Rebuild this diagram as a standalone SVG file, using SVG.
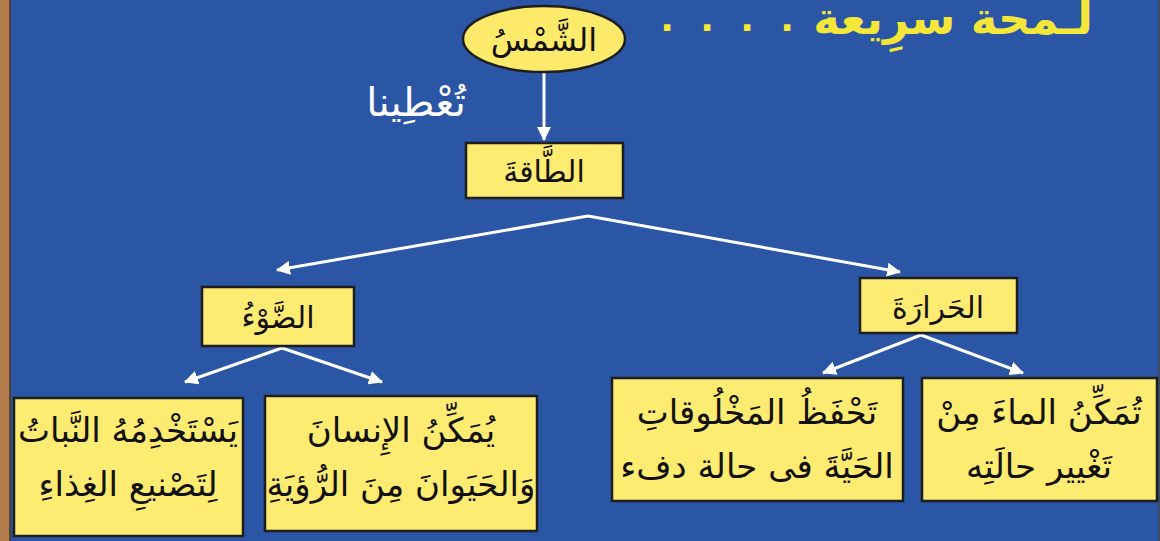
<svg xmlns="http://www.w3.org/2000/svg" width="1160" height="541" viewBox="0 0 1160 541">
<defs>
<style>
.box{fill:#fdeb72;stroke:#1e1e1e;stroke-width:2.5}
.t{font-family:"DejaVu Sans",sans-serif;fill:#111;text-anchor:middle;direction:rtl}
.c{stroke:#fff;stroke-width:3;fill:none}
</style>
<marker id="ah" viewBox="0 0 14 14" refX="13" refY="7" markerWidth="14" markerHeight="14" markerUnits="userSpaceOnUse" orient="auto">
<path d="M0,0 L14,7 L0,14 Z" fill="#fff"/>
</marker>
</defs>
<rect x="0" y="0" width="1160" height="541" fill="#2a56a5"/>
<rect x="0" y="0" width="10" height="541" fill="#b27b4a"/>
<line x1="10" y1="0" x2="10" y2="541" stroke="#4a3320" stroke-width="1.5"/>
<line x1="1159" y1="0" x2="1159" y2="541" stroke="#3d4a66" stroke-width="2"/>
<g id="title">
<text x="1093" y="34" font-family="DejaVu Sans,sans-serif" font-size="45" font-weight="bold" fill="#f5e63a" text-anchor="start" direction="rtl">لـمحة سرِيعة</text>
<text x="667 707 747 787" y="31" font-family="DejaVu Sans,sans-serif" font-size="36" font-weight="bold" fill="#f5e63a" text-anchor="middle">....</text>
</g>
<g id="connectors">
<line class="c" x1="544" y1="72" x2="544" y2="140" marker-end="url(#ah)"/>
<line class="c" x1="588" y1="216" x2="277" y2="270" marker-end="url(#ah)"/>
<line class="c" x1="588" y1="216" x2="900" y2="272" marker-end="url(#ah)"/>
<line class="c" x1="282" y1="348" x2="185" y2="382" marker-end="url(#ah)"/>
<line class="c" x1="282" y1="348" x2="382" y2="382" marker-end="url(#ah)"/>
<line class="c" x1="921" y1="335" x2="823" y2="373" marker-end="url(#ah)"/>
<line class="c" x1="921" y1="335" x2="1023" y2="373" marker-end="url(#ah)"/>
<text x="416" y="116" font-family="DejaVu Sans,sans-serif" font-size="40" fill="#fff" text-anchor="middle" direction="rtl">تُعْطِينا</text>
</g>
<g id="sun">
<ellipse cx="544" cy="39" rx="81" ry="33" fill="#fdea6a" stroke="#1e1e1e" stroke-width="2.5"/>
<text class="t" x="544" y="51" font-size="32">الشَّمْسُ</text>
</g>
<g id="energy">
<rect class="box" x="466" y="143" width="157" height="55"/>
<text class="t" x="544" y="182" font-size="30">الطَّاقةَ</text>
</g>
<g id="light">
<rect class="box" x="202" y="287" width="152" height="59"/>
<text class="t" x="278" y="328" font-size="30">الضَّوْءُ</text>
</g>
<g id="heat">
<rect class="box" x="860" y="278" width="157" height="55"/>
<text class="t" x="938" y="318" font-size="30">الحَرارَةَ</text>
</g>
<g id="plants">
<rect class="box" x="14" y="398" width="229" height="138"/>
<text class="t" x="128" y="442" font-size="34">يَسْتَخْدِمُهُ النَّباتُ</text>
<text class="t" x="128" y="496" font-size="34">لِتَصْنيعِ الغِذاءِ</text>
</g>
<g id="vision">
<rect class="box" x="265" y="396" width="272" height="135"/>
<text class="t" x="401" y="442" font-size="34">يُمَكِّنُ الإِنسانَ</text>
<text class="t" x="401" y="496" font-size="34">وَالحَيَوانَ مِنَ الرُّؤيَةِ</text>
</g>
<g id="warmth">
<rect class="box" x="612" y="378" width="291" height="123"/>
<text class="t" x="757" y="424" font-size="34">تَحْفَظُ المَخْلُوقاتِ</text>
<text class="t" x="757" y="478" font-size="34">الحَيَّةَ فى حالة دفء</text>
</g>
<g id="water">
<rect class="box" x="922" y="378" width="235" height="123"/>
<text class="t" x="1039" y="424" font-size="34">تُمَكِّنُ الماءَ مِنْ</text>
<text class="t" x="1039" y="478" font-size="34">تَغْيير حالَتِه</text>
</g>
</svg>
